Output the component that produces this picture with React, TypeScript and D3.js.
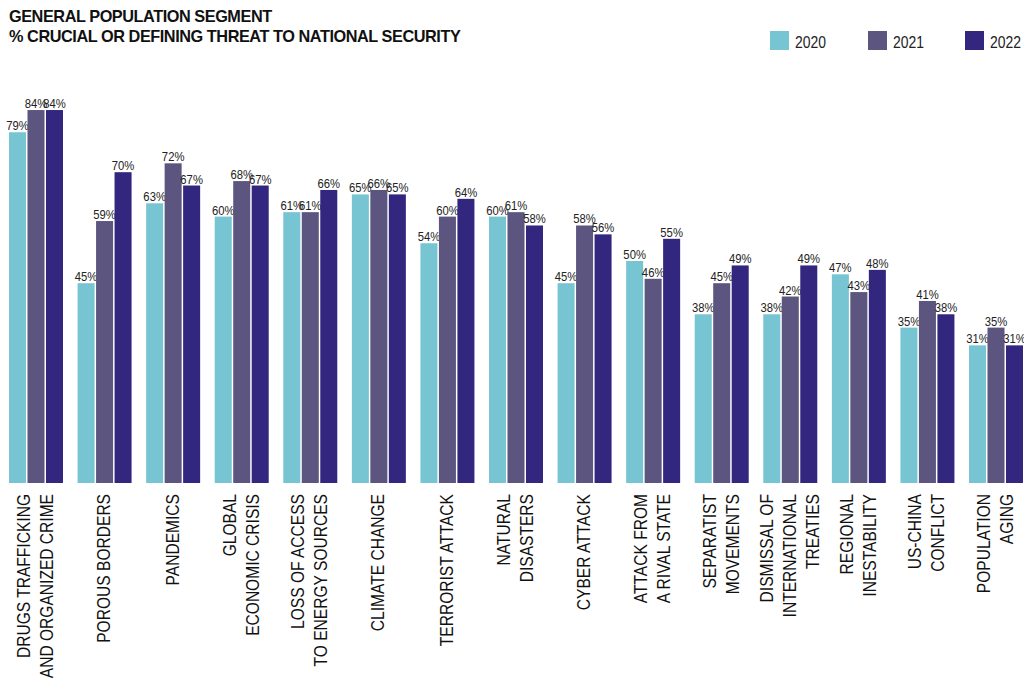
import React from "react";
import * as d3 from "d3";

const categories: string[][] = [
  ["DRUGS TRAFFICKING", "AND ORGANIZED CRIME"],
  ["POROUS BORDERS"],
  ["PANDEMICS"],
  ["GLOBAL", "ECONOMIC CRISIS"],
  ["LOSS OF ACCESS", "TO ENERGY SOURCES"],
  ["CLIMATE CHANGE"],
  ["TERRORIST ATTACK"],
  ["NATURAL", "DISASTERS"],
  ["CYBER ATTACK"],
  ["ATTACK FROM", "A RIVAL STATE"],
  ["SEPARATIST", "MOVEMENTS"],
  ["DISMISSAL OF", "INTERNATIONAL", "TREATIES"],
  ["REGIONAL", "INESTABILITY"],
  ["US-CHINA", "CONFLICT"],
  ["POPULATION", "AGING"],
];

const years = ["2020", "2021", "2022"];
const values2020 = [79, 45, 63, 60, 61, 65, 54, 60, 45, 50, 38, 38, 47, 35, 31];
const values2021 = [84, 59, 72, 68, 61, 66, 60, 61, 58, 46, 45, 42, 43, 41, 35];
const values2022 = [84, 70, 67, 67, 66, 65, 64, 58, 56, 55, 49, 49, 48, 38, 31];
const series = [values2020, values2021, values2022];
const colors = ["#77C5D3", "#5C557F", "#33267F"];

const titleLines = ["GENERAL POPULATION SEGMENT", "% CRUCIAL OR DEFINING THREAT TO NATIONAL SECURITY"];

const SANS = "'Liberation Sans', Arial, Helvetica, sans-serif";
const NARROW = 0.82;

export default function App() {
  const W = 1024;
  const H = 678;
  const keys = categories.map((c) => c.join(" "));
  const x0 = d3.scaleBand<string>().domain(keys).range([9, 1023]).paddingInner(0.2125).paddingOuter(0);
  const x1 = d3.scaleBand<string>().domain(years).range([0, x0.bandwidth()]).paddingInner(0.08);
  const y = d3.scaleLinear().domain([0, 100]).range([483, 39]);

  const legendX = [770, 868, 965];

  return (
    <div style={{ position: "fixed", left: 0, top: 0, width: W, height: H, background: "#fff" }}>
      <svg width={W} height={H} style={{ display: "block" }}>
        <rect width={W} height={H} fill="#fff" />
        {titleLines.map((t, i) => (
          <text key={t} x={9} y={22 + i * 20} fontFamily={SANS} fontWeight="bold" fontSize={16.3}
            letterSpacing={-0.45} fill="#111">{t}</text>
        ))}
        {years.map((yr, i) => (
          <g key={yr}>
            <rect x={legendX[i]} y={31} width={19} height={19} fill={colors[i]} />
            <text transform={`translate(${legendX[i] + 25},48) scale(${NARROW},1)`} fontFamily={SANS}
              fontSize={17} fill="#222">{yr}</text>
          </g>
        ))}
        {keys.map((k, ci) => {
          const gx = x0(k) as number;
          return (
            <g key={k} transform={`translate(${gx},0)`}>
              {years.map((yr, si) => {
                const v = series[si][ci];
                const bx = x1(yr) as number;
                const bw = x1.bandwidth();
                return (
                  <g key={yr}>
                    <rect x={bx} y={y(v)} width={bw} height={y(0) - y(v)} fill={colors[si]} />
                    <text transform={`translate(${bx + bw / 2},${y(v) - 2}) scale(0.94,1)`}
                      textAnchor="middle" fontFamily={SANS} fontSize={12} fill="#222">{v}%</text>
                  </g>
                );
              })}
            </g>
          );
        })}
        {categories.map((lines, ci) => {
          const cx = (x0(keys[ci]) as number) + x0.bandwidth() / 2;
          const n = lines.length;
          return (
            <g key={keys[ci]}>
              {lines.map((ln, li) => {
                const bx = cx + (li - (n - 1) / 2) * 23 + 5.5;
                return (
                  <text key={ln} transform={`translate(${bx},494) rotate(-90) scale(${NARROW},1)`}
                    textAnchor="end" fontFamily={SANS} fontSize={19} fill="#111">{ln}</text>
                );
              })}
            </g>
          );
        })}
      </svg>
    </div>
  );
}
